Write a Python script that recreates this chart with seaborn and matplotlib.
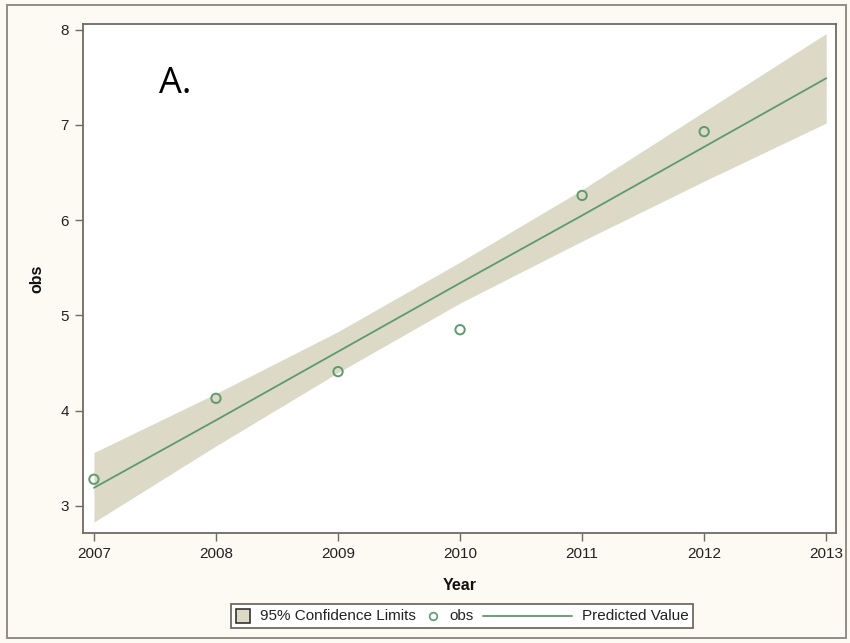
import matplotlib
matplotlib.use('Agg')
import matplotlib.pyplot as plt
from matplotlib.patches import Rectangle
from matplotlib.lines import Line2D
from matplotlib.offsetbox import AnchoredOffsetbox, DrawingArea, HPacker, TextArea
import seaborn as sns
import pandas as pd

# observed values
obs_years = [2007, 2008, 2009, 2010, 2011, 2012]
obs_values = [3.28, 4.13, 4.41, 4.85, 6.26, 6.93]

# fitted line with 95% confidence limits
fit_years = [2007, 2008, 2009, 2010, 2011, 2012, 2013]
predicted = [3.19, 3.90, 4.62, 5.34, 6.05, 6.77, 7.49]
lower_cl = [2.83, 3.63, 4.40, 5.13, 5.78, 6.41, 7.02]
upper_cl = [3.56, 4.18, 4.83, 5.56, 6.32, 7.14, 7.96]

x_ticks = [2007, 2008, 2009, 2010, 2011, 2012, 2013]
y_ticks = [3, 4, 5, 6, 7, 8]
legend_labels = ['95% Confidence Limits', 'obs', 'Predicted Value']

obs_df = pd.DataFrame({'Year': obs_years, 'obs': obs_values})
fit_df = pd.DataFrame({'Year': fit_years, 'pred': predicted, 'lo': lower_cl, 'hi': upper_cl})

sns.set_style('white')
plt.rcParams['font.family'] = ['Liberation Sans', 'DejaVu Sans']

bg = '#fdfaf3'
band_color = '#dcd9c6'
green = '#5e9a6c'
frame = '#6f6b63'

fig = plt.figure(figsize=(8.5, 6.43), dpi=100, facecolor=bg)
ax = fig.add_axes([0.0976, 0.1711, 0.8859, 0.7916])
ax.set_facecolor('white')

ax.fill_between(fit_df['Year'], fit_df['lo'], fit_df['hi'], color=band_color, linewidth=0, zorder=1)
sns.lineplot(data=fit_df, x='Year', y='pred', color=green, linewidth=1.3, ax=ax, zorder=2)
sns.scatterplot(data=obs_df, x='Year', y='obs', s=45, linewidth=1.4, ax=ax, zorder=3)
ax.collections[-1].set_facecolor('none')
ax.collections[-1].set_edgecolor(green)

ax.set_xlim(2006.91, 2013.08)
ax.set_ylim(2.716, 8.06)
ax.set_xticks(x_ticks)
ax.set_yticks(y_ticks)
ax.tick_params(axis='both', direction='out', length=6, width=1, color=frame,
               bottom=True, left=True, labelsize=11, labelcolor='#222222', pad=4)
for s in ax.spines.values():
    s.set_color(frame)
    s.set_linewidth(1.3)

ax.set_xlabel('Year', fontsize=11.5, fontweight='bold', labelpad=12, color='#111111')
ax.set_ylabel('obs', fontsize=11.5, fontweight='bold', labelpad=12, color='#111111')

ax.text(2007.53, 7.43, 'A.', fontsize=26, va='center', ha='left', color='black',
        family=['Open Sans', 'DejaVu Sans'])

# legend built from small boxes so each entry keeps its own symbol width
fs = 11
box_da = DrawingArea(11, 11, 0, 0)
box_da.add_artist(Rectangle((0.5, 0.5), 10, 10, facecolor=band_color, edgecolor='#333333', linewidth=1.2))
circ_da = DrawingArea(10, 11, 0, 0)
circ_da.add_artist(Line2D([5], [5.5], marker='o', linestyle='none', markerfacecolor='none',
                          markeredgecolor=green, markersize=5.5, markeredgewidth=1.2))
line_da = DrawingArea(64, 11, 0, 0)
line_da.add_artist(Line2D([0, 64], [5.5, 5.5], color=green, linewidth=1.3))

def txt(s):
    return TextArea(s, textprops=dict(fontsize=fs, color='#222222'))

row = HPacker(children=[box_da, txt(legend_labels[0]), circ_da, txt(legend_labels[1]),
                        line_da, txt(legend_labels[2])],
              align='center', pad=0, sep=7)
anchored = AnchoredOffsetbox(loc='center', child=row, pad=0.3, borderpad=0, frameon=True,
                             bbox_to_anchor=(462 / 850, 1 - 616 / 643),
                             bbox_transform=fig.transFigure)
anchored.patch.set_edgecolor(frame)
anchored.patch.set_linewidth(1.3)
anchored.patch.set_facecolor('white')
anchored.patch.set_boxstyle('square', pad=0)
fig.add_artist(anchored)

fig.patches.append(Rectangle((7 / 850, 1 - 638 / 643), 839 / 850, 633 / 643,
                             transform=fig.transFigure, fill=False,
                             edgecolor='#8a857c', linewidth=1.3))

fig.savefig('out.png', dpi=100, facecolor=bg)
